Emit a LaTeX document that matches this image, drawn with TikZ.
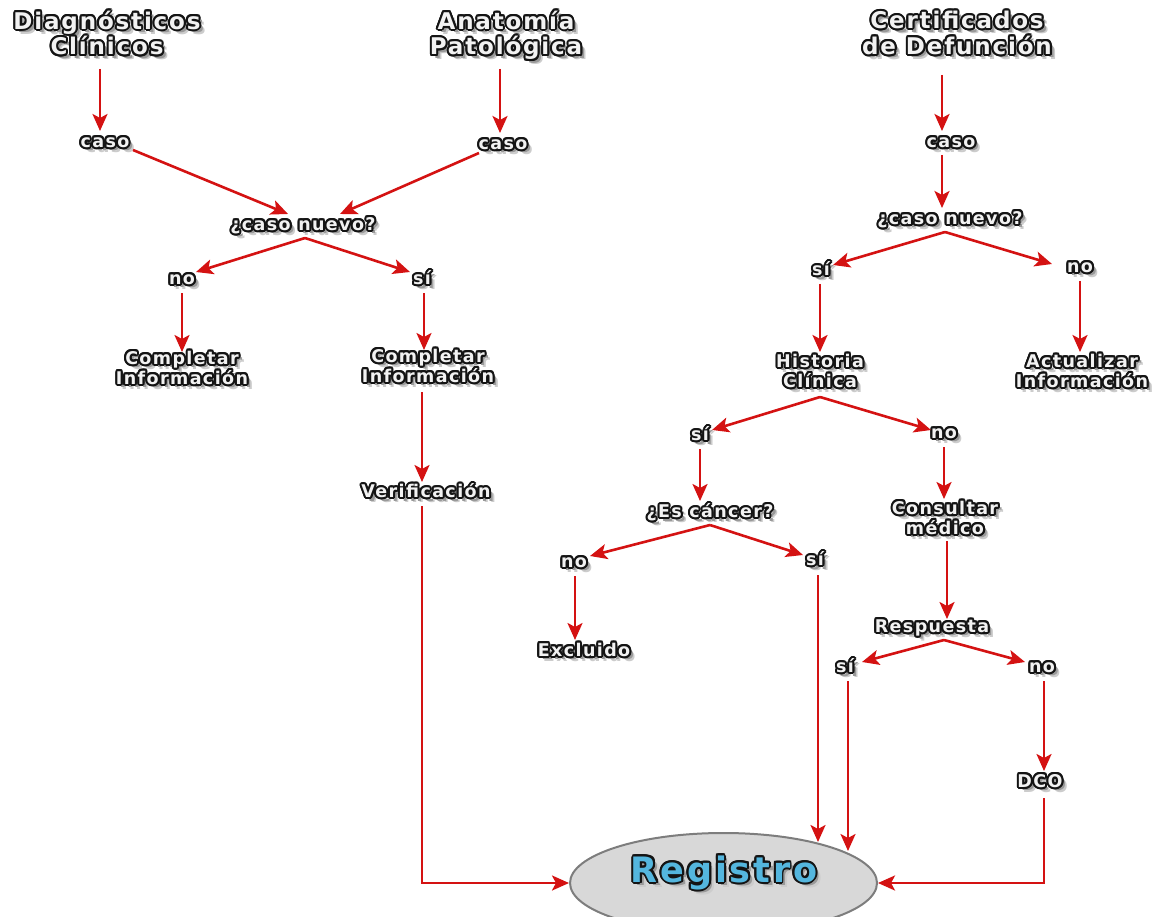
\documentclass[tikz,border=0pt]{standalone}
\usepackage{fontspec}
\usetikzlibrary{arrows.meta,calc,shapes.geometric}
\newfontfamily\lblfont{DejaVu Sans}[LetterSpace=8]
\definecolor{arrred}{RGB}{212,18,18}
\definecolor{txtline}{RGB}{20,20,20}
\definecolor{txtfill}{RGB}{242,242,242}
\definecolor{regblue}{RGB}{84,182,222}
\definecolor{regfill}{RGB}{216,216,216}
\definecolor{regdraw}{RGB}{125,125,125}
\newsavebox\olbk \newsavebox\olwh \newsavebox\olsh \newsavebox\olshb
\newcommand\olstack[1]{\begin{tabular}{@{}c@{}}#1\end{tabular}}
\newcommand\olput[3]{\rlap{\kern#1pt\raisebox{#2pt}{\usebox#3}}}
\newcommand\olt[2][txtfill]{%
  \sbox\olbk{\color{txtline}\olstack{#2}}%
  \sbox\olwh{\color{#1}\olstack{#2}}%
  \sbox\olsh{\color{black!40}\olstack{#2}}%
  \sbox\olshb{\color{black!20}\olstack{#2}}%
  \olput{5.2}{-5.2}\olshb\olput{3.6}{-3.6}\olsh
  \olput{-2}{0}\olbk\olput{2}{0}\olbk\olput{0}{2}\olbk\olput{0}{-2}\olbk
  \olput{-1.4}{1.4}\olbk\olput{1.4}{1.4}\olbk\olput{-1.4}{-1.4}\olbk\olput{1.4}{-1.4}\olbk
  \olput{-1.85}{0.8}\olbk\olput{1.85}{0.8}\olbk\olput{-1.85}{-0.8}\olbk\olput{1.85}{-0.8}\olbk
  \olput{-0.8}{1.85}\olbk\olput{0.8}{1.85}\olbk\olput{-0.8}{-1.85}\olbk\olput{0.8}{-1.85}\olbk
  \usebox\olwh}
\begin{document}
\begin{tikzpicture}[x=1pt,y=-1pt,
  title/.style={inner sep=0pt,font=\lblfont\bfseries\fontsize{23}{24.5}\selectfont},
  lbl/.style={inner sep=0pt,font=\lblfont\bfseries\fontsize{17.5}{19.5}\selectfont},
  arr/.style={draw=arrred,line width=2.6pt,-{Stealth[length=17pt,width=15pt,inset=4pt]}},
  regshape/.style={ellipse,draw=regdraw,fill=regfill,line width=2pt,minimum width=307pt,minimum height=100pt,inner sep=0pt}]
\useasboundingbox (0,0) rectangle (1164,917);
% nodes
\node[title] (diag) at (107,38) {\olt{Diagnósticos\\Clínicos}};
\node[title] (anat) at (506,38) {\olt{Anatomía\\Patológica}};
\node[title] (cert) at (957,38) {\olt{Certificados\\de Defunción}};
\node[lbl] (caso1) at (105,145) {\olt{caso}};
\node[lbl] (caso2) at (503,147) {\olt{caso}};
\node[lbl] (caso3) at (951,145) {\olt{caso}};
\node[lbl] (nuevo1) at (303,228) {\olt{¿caso nuevo?}};
\node[lbl] (nuevo2) at (950,222) {\olt{¿caso nuevo?}};
\node[lbl] (no1) at (182,282) {\olt{no}};
\node[lbl] (si1) at (422,282) {\olt{sí}};
\node[lbl] (si2) at (821,273) {\olt{sí}};
\node[lbl] (no2) at (1080,270) {\olt{no}};
\node[lbl] (comp1) at (182,372) {\olt{Completar\\Información}};
\node[lbl] (comp2) at (428,370) {\olt{Completar\\Información}};
\node[lbl] (hist) at (820,375) {\olt{Historia\\Clínica}};
\node[lbl] (actual) at (1082,375) {\olt{Actualizar\\Información}};
\node[lbl] (verif) at (426,495) {\olt{Verificación}};
\node[lbl] (si3) at (700,438) {\olt{sí}};
\node[lbl] (no3) at (944,436) {\olt{no}};
\node[lbl] (escan) at (710,515) {\olt{¿Es cáncer?}};
\node[lbl] (cons) at (945,522) {\olt{Consultar\\médico}};
\node[lbl] (no4) at (574,565) {\olt{no}};
\node[lbl] (si4) at (815,563) {\olt{sí}};
\node[lbl] (excl) at (584,654) {\olt{Excluido}};
\node[lbl] (resp) at (932,630) {\olt{Respuesta}};
\node[lbl] (si5) at (845,670) {\olt{sí}};
\node[lbl] (no5) at (1042,670) {\olt{no}};
\node[lbl] (dco) at (1040,785) {\olt{DCO}};
\node[regshape] (reg) at (723.5,883) {};
\node[inner sep=0pt,font=\lblfont\bfseries\fontsize{35}{38}\selectfont] (regtxt) at (724,876) {\olt[regblue]{Registro}};
% connectors
\draw[arr] ($(diag)+(-7,31)$) -- ($(caso1)+(-5,-14)$);
\draw[arr] ($(anat)+(-6,31)$) -- ($(caso2)+(-3,-14)$);
\draw[arr] ($(cert)+(-15,37)$) -- ($(caso3)+(-9,-14)$);
\draw[arr] ($(caso1)+(28,5)$) -- ($(nuevo1)+(-15,-14)$);
\draw[arr] ($(caso2)+(-24,6)$) -- ($(nuevo1)+(37,-14)$);
\draw[arr] ($(nuevo1)+(2,10)$) -- ($(no1)+(14,-10)$);
\draw[arr] ($(nuevo1)+(2,10)$) -- ($(si1)+(-12,-10)$);
\draw[arr] ($(no1)+(0,11)$) -- ($(comp1)+(0,-20)$);
\draw[arr] ($(si1)+(2,11)$) -- ($(comp2)+(-4,-20)$);
\draw[arr] ($(comp2)+(-6,22)$) -- ($(verif)+(-4,-13)$);
\draw[arr] ($(verif)+(-4,11)$) |- (reg.west);
\draw[arr] ($(caso3)+(-9,10)$) -- ($(nuevo2)+(-8,-14)$);
\draw[arr] ($(nuevo2)+(-5,10)$) -- ($(si2)+(12,-8)$);
\draw[arr] ($(nuevo2)+(-5,10)$) -- ($(no2)+(-28,-6)$);
\draw[arr] ($(si2)+(-1,11)$) -- ($(hist)+(0,-23)$);
\draw[arr] ($(no2)+(0,11)$) -- ($(actual)+(-2,-23)$);
\draw[arr] ($(hist)+(0,22)$) -- ($(si3)+(12,-8)$);
\draw[arr] ($(hist)+(0,22)$) -- ($(no3)+(-13,-6)$);
\draw[arr] ($(si3)+(0,11)$) -- ($(escan)+(-10,-14)$);
\draw[arr] ($(no3)+(0,11)$) -- ($(cons)+(-1,-23)$);
\draw[arr] ($(escan)+(0,10)$) -- ($(no4)+(16,-9)$);
\draw[arr] ($(escan)+(0,10)$) -- ($(si4)+(-12,-8)$);
\draw[arr] ($(no4)+(1,11)$) -- ($(excl)+(-9,-14)$);
\draw[arr] ($(si4)+(3,12)$) -- ($(reg)+(94.5,-41)$);
\draw[arr] ($(cons)+(2,19)$) -- ($(resp)+(15,-11)$);
\draw[arr] ($(resp)+(12,10)$) -- ($(si5)+(17,-8)$);
\draw[arr] ($(resp)+(12,10)$) -- ($(no5)+(-17,-8)$);
\draw[arr] ($(si5)+(3,11)$) -- ($(reg)+(124.5,-32)$);
\draw[arr] ($(no5)+(2,11)$) -- ($(dco)+(4,-14)$);
\draw[arr] ($(dco)+(4,13)$) |- (reg.east);
\end{tikzpicture}
\end{document}
